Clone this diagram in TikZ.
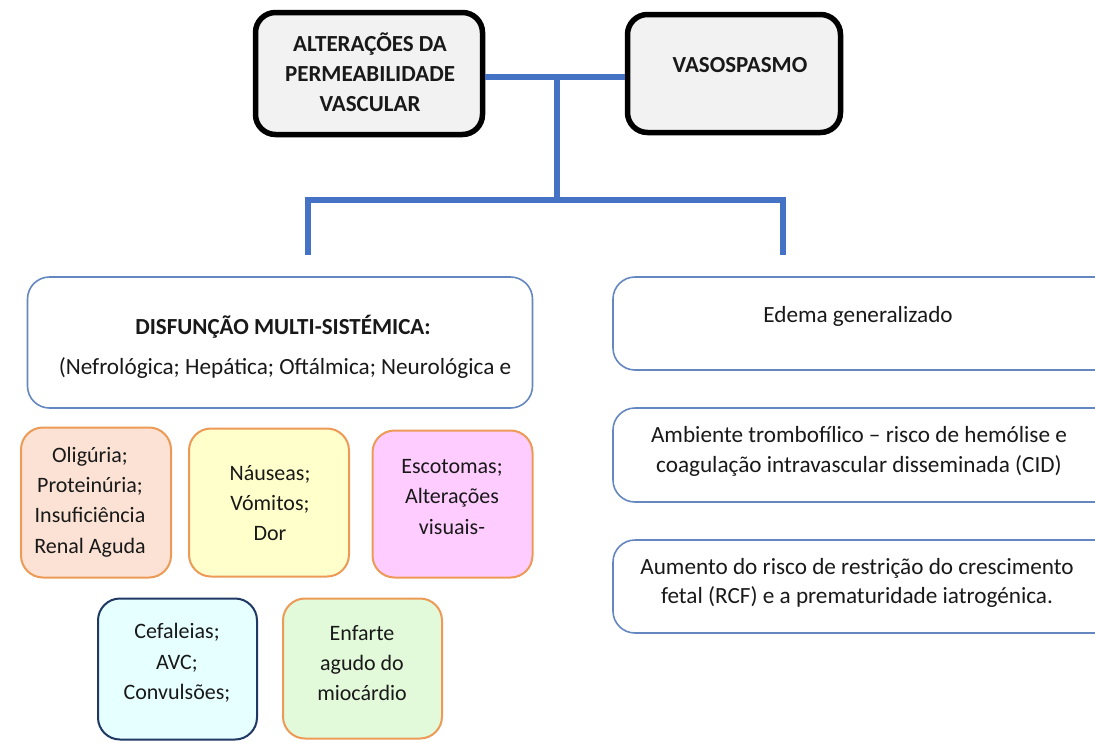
\documentclass[tikz,border=0pt]{standalone}
\usepackage{fontspec}
\setmainfont{Carlito}
\definecolor{topgrey}{HTML}{F2F2F2}
\definecolor{linkblue}{HTML}{4472C4}
\definecolor{boxblue}{HTML}{6587C0}
\definecolor{orangeb}{HTML}{EC9A55}
\definecolor{navyb}{HTML}{203864}
\definecolor{peach}{HTML}{FBE2D4}
\definecolor{lyellow}{HTML}{FFFFCC}
\definecolor{lpink}{HTML}{FFCCFF}
\definecolor{lcyan}{HTML}{E6FFFF}
\definecolor{lgreen}{HTML}{E2FADA}
\begin{document}
\begin{tikzpicture}[x=1pt,y=-1pt,
  txt/.style={font=\fontsize{23.2}{29.5}\selectfont, align=center, inner sep=0pt, text=black!90},
  stxt/.style={font=\fontsize{22}{30.3}\selectfont, align=center, inner sep=0pt, text=black!90},
  btxt/.style={font=\fontsize{23}{30}\selectfont\bfseries, align=center, inner sep=0pt, text=black!90},
  topbox/.style={draw=black, line width=5.5pt, fill=topgrey, rounded corners=20pt, inner sep=0pt},
  bluebox/.style={draw=boxblue, line width=1.6pt, rounded corners=22pt, inner sep=0pt, fill=white},
  smallbox/.style={line width=2pt, rounded corners=22pt, inner sep=0pt},
  conn/.style={draw=linkblue, line width=5.5pt, line cap=butt, line join=miter}]
\clip (0,0) rectangle (1095,742);
\fill[white] (0,0) rectangle (1095,742);

% top boxes
\node[topbox, minimum width=227pt, minimum height=122pt] (A) at (369,73.5) {};
\node[topbox, minimum width=213pt, minimum height=118pt] (B) at (734,73.5) {};
\node[btxt] (tA) at (370,72) {ALTERAÇÕES DA\\PERMEABILIDADE\\VASCULAR};
\node[btxt] (tB) at (740,65) {VASOSPASMO};

% connectors
\coordinate (j) at (557,77);
\coordinate (h) at (557,200);
\coordinate (hl) at (308,200);
\coordinate (hr) at (783,200);
\coordinate (el) at (308,255);
\coordinate (er) at (783,255);
\draw[conn] (j -| A.east) -- (j -| B.west);
\draw[conn] (j) -- (h);
\draw[conn] (el) -- (hl) -- (hr) -- (er);

% left main box
\node[bluebox, minimum width=505pt, minimum height=131pt] (D) at (280,342.5) {};
\node[btxt] (tD1) at (283,327) {DISFUNÇÃO MULTI-SISTÉMICA:};
\node[txt] (tD2) at (285,368) {(Nefrológica; Hepática; Oftálmica; Neurológica e};

% right boxes
\node[bluebox, minimum width=520pt, minimum height=93pt] (R1) at (873,323.5) {};
\node[txt] (tR1) at (858,316) {Edema generalizado};
\node[bluebox, minimum width=520pt, minimum height=94pt] (R2) at (873,455) {};
\node[txt] (tR2) at (859,451.5) {Ambiente trombofílico – risco de hemólise e\\coagulação intravascular disseminada (CID)};
\node[bluebox, minimum width=520pt, minimum height=93pt] (R3) at (873,586.5) {};
\node[txt] (tR3) at (857,583) {Aumento do risco de restrição do crescimento\\fetal (RCF) e a prematuridade iatrogénica.};

% small boxes
\node[smallbox, draw=orangeb, fill=peach, minimum width=150pt, minimum height=150pt] (S1) at (96,502.5) {};
\node[stxt] (tS1) at (90,502) {Oligúria;\\Proteinúria;\\Insuficiência\\Renal Aguda};
\node[smallbox, draw=orangeb, fill=lyellow, minimum width=160pt, minimum height=148pt] (S2) at (269,502.5) {};
\node[stxt] (tS2) at (270,503) {Náuseas;\\Vómitos;\\Dor};
\node[smallbox, draw=orangeb, fill=lpink, minimum width=160pt, minimum height=147pt] (S3) at (452.5,504) {};
\node[stxt] (tS3) at (452,497) {Escotomas;\\Alterações\\visuais-};
\node[smallbox, draw=navyb, fill=lcyan, minimum width=159pt, minimum height=141pt] (S4) at (177.5,669) {};
\node[stxt] (tS4) at (177,663) {Cefaleias;\\AVC;\\Convulsões;};
\node[smallbox, draw=orangeb, fill=lgreen, minimum width=159pt, minimum height=140pt] (S5) at (362.5,668.5) {};
\node[stxt] (tS5) at (362,663) {Enfarte\\agudo do\\miocárdio};
\end{tikzpicture}
\end{document}
